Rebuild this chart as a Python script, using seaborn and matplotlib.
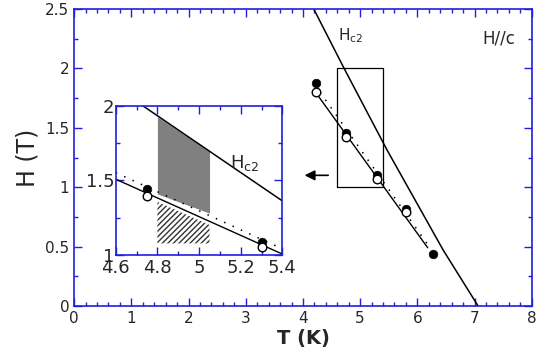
import numpy as np
import pandas as pd
import seaborn as sns
import matplotlib
matplotlib.use("Agg")
import matplotlib.pyplot as plt
from matplotlib.ticker import MultipleLocator

# Hc2 line
hc2_T = [4.19, 4.72, 5.47, 6.45, 7.06]
hc2_H = [2.5, 2.0, 1.313, 0.471, 0.0]

# filled and open points (main panel)
filled_T = [4.22, 4.75, 5.30, 5.80, 6.27]
filled_H = [1.88, 1.46, 1.10, 0.82, 0.44]
open_T = [4.22, 4.75, 5.30, 5.80]
open_H = [1.80, 1.42, 1.07, 0.79]

# straight lines through the points (main panel)
solid_T = [4.22, 6.18]
solid_H = [1.80, 0.49]
dotted_T = [4.30, 6.22]
dotted_H = [1.80, 0.49]

# inset values
in_filled_T = [4.752, 5.304]
in_filled_H = [1.441, 1.089]
in_open_T = [4.752, 5.304]
in_open_H = [1.398, 1.056]
in_solid_T = [4.6, 5.4]
in_solid_H = [1.508, 1.005]
in_dotted_T = [4.6, 5.4]
in_dotted_H = [1.552, 1.040]
in_hc2_T = [4.731, 5.4]
in_hc2_H = [2.0, 1.362]

# shaded regions in the inset
gray_T = [4.8, 5.05]
gray_top = [1.928, 1.693]
gray_bot = [1.409, 1.280]
hatch_T = [4.8, 5.05]
hatch_top = [1.356, 1.201]
hatch_bot = [1.077, 1.077]

# zoom box
box_T = [4.6, 5.4]
box_H = [1.0, 2.0]

sns.set_style("ticks")
plt.rcParams['font.family'] = ['DejaVu Sans']
blue = "#1f1fe0"

fig = plt.figure(figsize=(5.41, 3.52), dpi=100)
ax = fig.add_axes([0.137, 0.131, 0.846, 0.843])
axin = fig.add_axes([0.214, 0.276, 0.308, 0.423])


def draw_data(a, hT, hH, sT, sH, dT, dH, fT, fH, oT, oH, ms):
    sns.lineplot(x=hT, y=hH, ax=a, color="black", lw=1.1, sort=False, estimator=None)
    sns.lineplot(x=sT, y=sH, ax=a, color="black", lw=1.0, sort=False, estimator=None)
    sns.lineplot(x=dT, y=dH, ax=a, color="black", lw=1.1, sort=False,
                 estimator=None, linestyle=(0, (1, 5)))
    sns.scatterplot(x=fT, y=fH, ax=a, color="black", s=ms, edgecolor="black", zorder=5)
    sns.scatterplot(x=oT, y=oH, ax=a, color="white", s=ms, edgecolor="black",
                    linewidth=1.0, zorder=6)


def style_axes(a, lw):
    for sp in a.spines.values():
        sp.set_color(blue)
        sp.set_linewidth(lw)
    a.tick_params(which="both", direction="in", color=blue, top=True, right=True, width=1.0)
    a.tick_params(which="major", length=6)
    a.tick_params(which="minor", length=3)


# main panel
draw_data(ax, hc2_T, hc2_H, solid_T, solid_H, dotted_T, dotted_H,
          filled_T, filled_H, open_T, open_H, 38)
ax.plot([box_T[0], box_T[1], box_T[1], box_T[0], box_T[0]],
        [box_H[0], box_H[0], box_H[1], box_H[1], box_H[0]], color="black", lw=0.9)
ax.annotate("", xy=(3.98, 1.1), xytext=(4.49, 1.1),
            arrowprops=dict(arrowstyle="-|>", color="black", lw=1.2, mutation_scale=15))
ax.text(4.62, 2.24, r"$\mathregular{H_{c2}}$", fontsize=11)
ax.text(7.14, 2.21, "H//c", fontsize=12)
ax.set_xlim(0, 8)
ax.set_ylim(0, 2.5)
ax.set_xticks(range(0, 9))
ax.set_xticklabels([str(i) for i in range(0, 9)])
ax.set_yticks([0, 0.5, 1, 1.5, 2, 2.5])
ax.set_yticklabels(["0", "0.5", "1", "1.5", "2", "2.5"])
ax.xaxis.set_minor_locator(MultipleLocator(0.2))
ax.yaxis.set_minor_locator(MultipleLocator(0.25))
ax.tick_params(labelsize=11)
ax.set_xlabel("T (K)", fontsize=14, fontweight="bold", labelpad=2)
ax.set_ylabel("H (T)", fontsize=17, labelpad=4)
style_axes(ax, 1.2)

# inset
axin.fill_between(gray_T, gray_bot, gray_top, color="#808080", lw=0)
axin.fill_between(hatch_T, hatch_bot, hatch_top, facecolor="white", edgecolor="#333333",
                  hatch="//////", lw=0)
draw_data(axin, in_hc2_T, in_hc2_H, in_solid_T, in_solid_H, in_dotted_T, in_dotted_H,
          in_filled_T, in_filled_H, in_open_T, in_open_H, 38)
axin.text(5.15, 1.58, r"$\mathregular{H_{c2}}$", fontsize=13)
axin.set_xlim(4.6, 5.4)
axin.set_ylim(1, 2)
axin.set_xticks([4.6, 4.8, 5.0, 5.2, 5.4])
axin.set_xticklabels(["4.6", "4.8", "5", "5.2", "5.4"])
axin.set_yticks([1, 1.5, 2])
axin.set_yticklabels(["1", "1.5", "2"])
axin.xaxis.set_minor_locator(MultipleLocator(0.1))
axin.yaxis.set_minor_locator(MultipleLocator(0.25))
axin.tick_params(labelsize=13, pad=1)
axin.tick_params(axis="x", pad=3)
style_axes(axin, 1.2)

fig.savefig("out.png", dpi=100)
